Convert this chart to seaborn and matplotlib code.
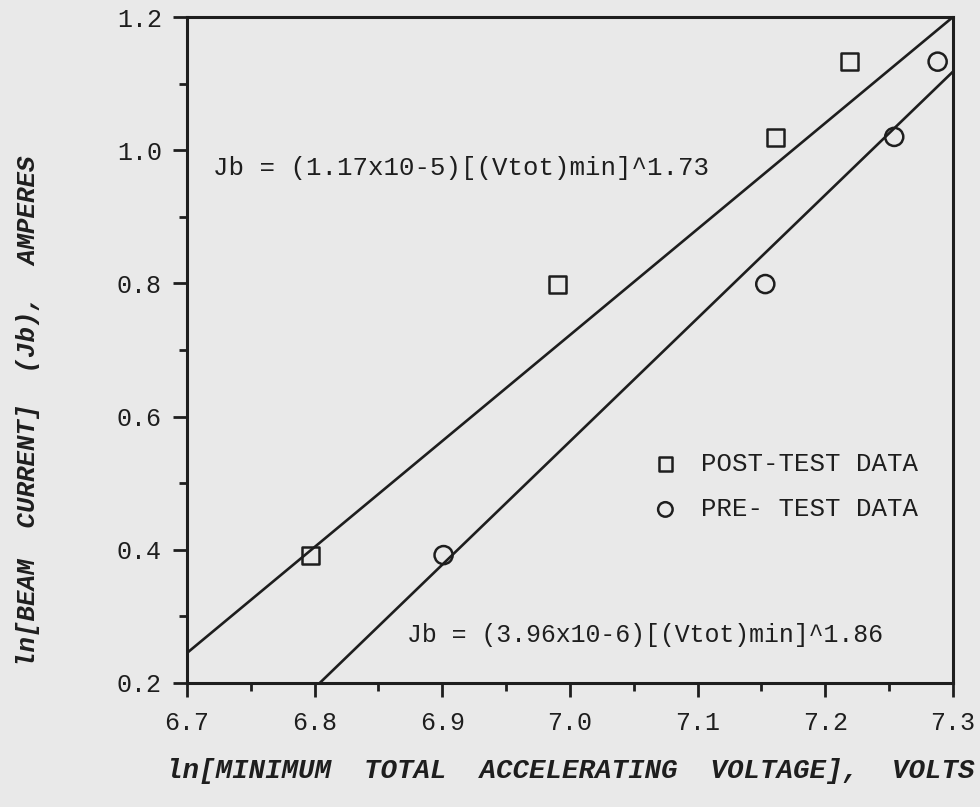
import matplotlib
matplotlib.use("Agg")
import matplotlib.pyplot as plt
from matplotlib.ticker import MultipleLocator
import seaborn as sns
import pandas as pd

# ln of minimum total accelerating voltage (volts) and ln of beam current (amperes)
post_x = [6.797, 6.99, 7.161, 7.219]
post_y = [0.392, 0.799, 1.019, 1.133]
pre_x = [6.901, 7.153, 7.254, 7.288]
pre_y = [0.392, 0.799, 1.020, 1.133]

# fitted lines (end points of each fit within the plotted window)
post_fit_x = [6.7, 7.3]
post_fit_y = [0.245, 1.2]
pre_fit_x = [6.804, 7.3]
pre_fit_y = [0.2, 1.118]

post_label = "POST-TEST DATA"
pre_label = "PRE- TEST DATA"
post_eq = "Jb = (1.17x10-5)[(Vtot)min]^1.73"
pre_eq = "Jb = (3.96x10-6)[(Vtot)min]^1.86"
x_title = "ln[MINIMUM  TOTAL  ACCELERATING  VOLTAGE],  VOLTS"
y_title = "ln[BEAM  CURRENT]  (Jb),  AMPERES"
x_ticks = [6.7, 6.8, 6.9, 7.0, 7.1, 7.2, 7.3]
y_ticks = [0.2, 0.4, 0.6, 0.8, 1.0, 1.2]

sns.set_theme(style="white")
plt.rcParams["font.family"] = ["Liberation Mono", "DejaVu Sans Mono"]

ink = "#1e1e1e"
paper = "#e9e9e9"

fig = plt.figure(figsize=(9.8, 8.07), dpi=100, facecolor=paper)
ax = fig.add_axes([0.1908, 0.1537, 0.7816, 0.8252], facecolor=paper)

post_df = pd.DataFrame({"x": post_x, "y": post_y})
pre_df = pd.DataFrame({"x": pre_x, "y": pre_y})
post_fit = pd.DataFrame({"x": post_fit_x, "y": post_fit_y})
pre_fit = pd.DataFrame({"x": pre_fit_x, "y": pre_fit_y})

sns.lineplot(data=post_fit, x="x", y="y", ax=ax, color=ink, linewidth=1.9,
             legend=False)
sns.lineplot(data=pre_fit, x="x", y="y", ax=ax, color=ink, linewidth=1.9,
             legend=False)
sns.scatterplot(data=post_df, x="x", y="y", ax=ax, marker="s", s=150,
                facecolor="none", edgecolor=ink, linewidth=1.8,
                label=post_label, zorder=3)
sns.scatterplot(data=pre_df, x="x", y="y", ax=ax, marker="o", s=170,
                facecolor="none", edgecolor=ink, linewidth=1.8,
                label=pre_label, zorder=3)

ax.set_xlim(6.7, 7.3)
ax.set_ylim(0.2, 1.2)
ax.set_xticks(x_ticks)
ax.set_yticks(y_ticks)
ax.set_xticklabels([f"{v:.1f}" for v in x_ticks])
ax.set_yticklabels([f"{v:.1f}" for v in y_ticks])
ax.xaxis.set_minor_locator(MultipleLocator(0.05))
ax.yaxis.set_minor_locator(MultipleLocator(0.1))
ax.tick_params(axis="both", which="major", direction="out", length=10,
               width=2.0, color=ink, labelsize=18, labelcolor=ink,
               bottom=True, left=True, top=False, right=False)
ax.tick_params(axis="x", which="major", pad=10)
ax.tick_params(axis="y", which="major", pad=8)
ax.tick_params(axis="both", which="minor", direction="out", length=6,
               width=2.0, color=ink, bottom=True, left=True,
               top=False, right=False)

for side in ["left", "right", "top", "bottom"]:
    ax.spines[side].set_visible(True)
    ax.spines[side].set_color(ink)
    ax.spines[side].set_linewidth(2.2)

ax.set_xlabel("")
ax.set_ylabel("")
fig.text(0.582, 0.045, x_title, ha="center", va="center", fontsize=19.8,
         fontweight="bold", fontstyle="italic", color=ink)
fig.text(0.029, 0.49, y_title, ha="center", va="center", rotation=90,
         fontsize=18.5, fontweight="bold", fontstyle="italic", color=ink)

ax.text(6.72, 0.973, post_eq, ha="left", va="center", fontsize=18.5,
        color=ink)
ax.text(6.872, 0.272, pre_eq, ha="left", va="center", fontsize=17.9,
        color=ink)

ax.legend(loc="center left", bbox_to_anchor=(0.591, 0.295), frameon=False,
          fontsize=18.5, markerscale=0.8, handletextpad=0.4,
          labelspacing=0.83, borderpad=0, borderaxespad=0,
          labelcolor=ink)

fig.savefig("out.png", dpi=100, facecolor=paper)
